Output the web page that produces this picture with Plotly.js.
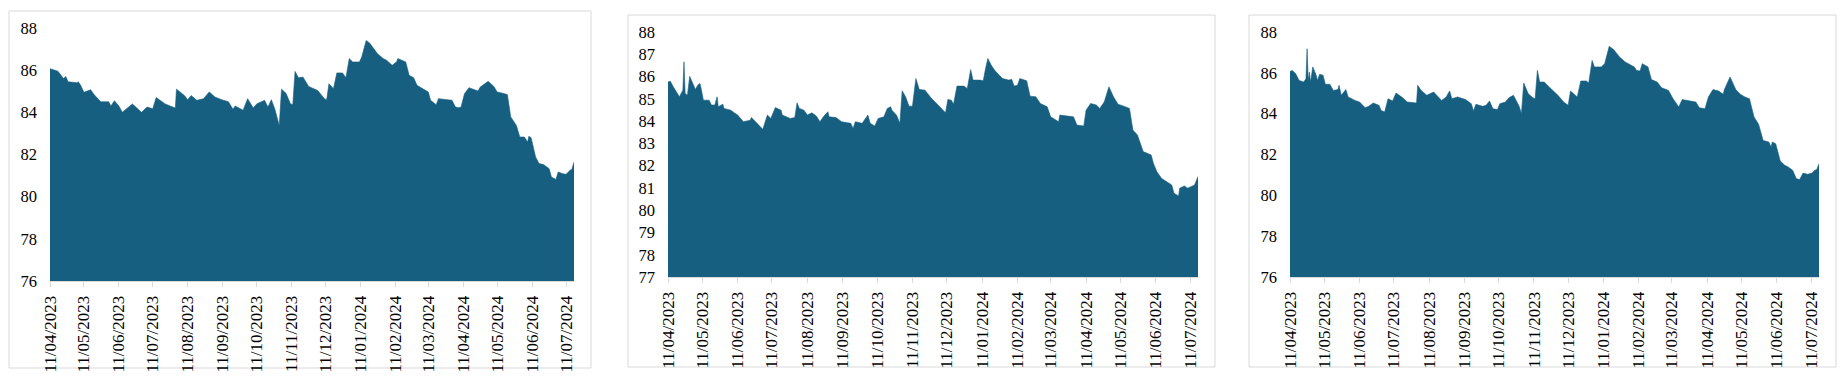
<!DOCTYPE html>
<html>
<head>
<meta charset="utf-8">
<script src="https://cdn.plot.ly/plotly-3.0.1.min.js"></script>
<style>html,body{margin:0;padding:0;background:#fff;}#chart{width:1843px;height:377px;}</style>
</head>
<body>
<div id="chart"></div>
<script>
const tickDates = ['2023-04-11','2023-05-11','2023-06-11','2023-07-11','2023-08-11','2023-09-11','2023-10-11','2023-11-11','2023-12-11','2024-01-11','2024-02-11','2024-03-11','2024-04-11','2024-05-11','2024-06-11','2024-07-11'];
const tickLabels = ['11/04/2023','11/05/2023','11/06/2023','11/07/2023','11/08/2023','11/09/2023','11/10/2023','11/11/2023','11/12/2023','11/01/2024','11/02/2024','11/03/2024','11/04/2024','11/05/2024','11/06/2024','11/07/2024'];

const dates1 = ['2023-04-11','2023-04-18','2023-04-23','2023-04-25','2023-04-27','2023-05-05','2023-05-06','2023-05-08','2023-05-11','2023-05-17','2023-05-20','2023-05-26','2023-06-02','2023-06-04','2023-06-07','2023-06-11','2023-06-14','2023-06-23','2023-07-01','2023-07-06','2023-07-11','2023-07-14','2023-07-22','2023-07-31','2023-08-01','2023-08-08','2023-08-11','2023-08-14','2023-08-19','2023-08-25','2023-08-30','2023-09-04','2023-09-10','2023-09-16','2023-09-20','2023-09-22','2023-09-29','2023-10-03','2023-10-08','2023-10-11','2023-10-18','2023-10-21','2023-10-24','2023-10-27','2023-10-31','2023-11-02','2023-11-06','2023-11-10','2023-11-12','2023-11-14','2023-11-17','2023-11-21','2023-11-26','2023-12-04','2023-12-10','2023-12-12','2023-12-14','2023-12-18','2023-12-21','2023-12-26','2023-12-29','2024-01-01','2024-01-04','2024-01-10','2024-01-12','2024-01-16','2024-01-19','2024-01-26','2024-01-31','2024-02-03','2024-02-08','2024-02-12','2024-02-13','2024-02-20','2024-02-23','2024-02-27','2024-03-01','2024-03-08','2024-03-11','2024-03-13','2024-03-18','2024-03-20','2024-03-26','2024-04-01','2024-04-04','2024-04-07','2024-04-09','2024-04-12','2024-04-16','2024-04-21','2024-04-24','2024-04-26','2024-05-03','2024-05-08','2024-05-11','2024-05-15','2024-05-20','2024-05-23','2024-05-28','2024-05-31','2024-06-04','2024-06-07','2024-06-08','2024-06-10','2024-06-14','2024-06-17','2024-06-21','2024-06-26','2024-06-28','2024-07-02','2024-07-04','2024-07-08','2024-07-11','2024-07-15','2024-07-16','2024-07-18'];
const values1 = [86.07,85.95,85.6,85.7,85.45,85.4,85.45,85.3,84.95,85.07,84.84,84.5,84.5,84.3,84.55,84.3,84.0,84.4,84.0,84.25,84.17,84.7,84.4,84.2,85.1,84.8,84.6,84.8,84.57,84.65,84.97,84.73,84.6,84.5,84.15,84.3,84.1,84.65,84.2,84.4,84.57,84.25,84.6,84.17,83.38,85.1,84.9,84.4,84.37,85.94,85.64,85.67,85.23,85.04,84.65,84.6,85.36,85.12,85.87,85.87,85.64,86.55,86.39,86.39,86.62,87.41,87.29,86.78,86.55,86.47,86.23,86.4,86.55,86.39,85.76,85.64,85.28,85.04,84.96,84.57,84.36,84.65,84.62,84.57,84.25,84.22,84.25,84.88,85.17,85.07,85.01,85.2,85.47,85.23,84.96,84.92,84.84,83.78,83.38,82.83,82.83,82.59,82.86,82.8,81.88,81.57,81.52,81.33,80.93,80.82,81.17,81.09,81.06,81.28,81.28,81.64];

const dates2 = ['2023-04-11','2023-04-13','2023-04-16','2023-04-20','2023-04-21','2023-04-24','2023-04-25','2023-04-26','2023-04-28','2023-04-30','2023-05-03','2023-05-05','2023-05-07','2023-05-09','2023-05-10','2023-05-12','2023-05-17','2023-05-19','2023-05-22','2023-05-24','2023-05-25','2023-05-29','2023-05-30','2023-06-05','2023-06-08','2023-06-11','2023-06-16','2023-06-22','2023-06-23','2023-06-28','2023-07-03','2023-07-07','2023-07-10','2023-07-14','2023-07-19','2023-07-20','2023-07-27','2023-07-31','2023-08-02','2023-08-04','2023-08-08','2023-08-11','2023-08-15','2023-08-19','2023-08-22','2023-08-25','2023-08-29','2023-08-30','2023-09-05','2023-09-10','2023-09-15','2023-09-18','2023-09-20','2023-09-22','2023-09-28','2023-10-03','2023-10-05','2023-10-09','2023-10-12','2023-10-17','2023-10-20','2023-10-23','2023-10-24','2023-10-28','2023-10-31','2023-11-02','2023-11-05','2023-11-08','2023-11-11','2023-11-14','2023-11-17','2023-11-22','2023-11-27','2023-12-04','2023-12-10','2023-12-12','2023-12-15','2023-12-17','2023-12-20','2023-12-26','2023-12-29','2024-01-01','2024-01-03','2024-01-09','2024-01-12','2024-01-14','2024-01-16','2024-01-19','2024-01-22','2024-01-26','2024-01-29','2024-02-03','2024-02-06','2024-02-08','2024-02-11','2024-02-13','2024-02-19','2024-02-22','2024-02-27','2024-03-02','2024-03-08','2024-03-11','2024-03-18','2024-03-19','2024-03-25','2024-03-31','2024-04-03','2024-04-09','2024-04-11','2024-04-15','2024-04-20','2024-04-23','2024-04-27','2024-05-01','2024-05-05','2024-05-09','2024-05-14','2024-05-19','2024-05-22','2024-05-26','2024-05-31','2024-06-03','2024-06-07','2024-06-09','2024-06-12','2024-06-16','2024-06-20','2024-06-25','2024-06-27','2024-07-01','2024-07-02','2024-07-06','2024-07-09','2024-07-12','2024-07-15','2024-07-18'];
const values2 = [85.76,85.79,85.51,85.16,85.09,85.39,86.66,85.24,85.16,86.01,85.61,85.42,85.61,85.69,85.46,84.94,84.94,84.72,84.72,85.09,84.64,84.76,84.57,84.49,84.37,84.27,83.97,84.04,84.16,83.9,83.63,84.27,84.12,84.61,84.49,84.27,84.12,84.16,84.82,84.57,84.49,84.27,84.37,84.22,83.97,84.19,84.42,84.19,84.16,83.97,83.93,83.9,83.67,83.97,83.9,84.27,83.9,83.78,84.12,84.19,84.57,84.64,84.49,84.27,83.9,85.36,85.09,84.67,84.67,85.91,85.42,85.39,85.06,84.67,84.37,84.97,84.94,84.76,85.57,85.57,85.46,86.31,85.84,85.84,85.81,86.36,86.81,86.51,86.28,86.06,85.91,85.84,85.87,85.57,85.61,85.91,85.81,85.12,85.09,84.79,84.64,84.19,83.97,84.27,84.22,84.19,83.82,83.78,84.49,84.79,84.72,84.57,84.87,85.54,85.09,84.76,84.67,84.57,83.6,83.37,82.63,82.55,82.48,82.1,81.73,81.43,81.28,81.13,80.76,80.64,80.99,81.09,80.99,81.06,81.13,81.51];

const dates3 = ['2023-04-11','2023-04-13','2023-04-16','2023-04-19','2023-04-23','2023-04-25','2023-04-26','2023-04-27','2023-04-28','2023-04-29','2023-05-01','2023-05-04','2023-05-05','2023-05-07','2023-05-10','2023-05-12','2023-05-16','2023-05-19','2023-05-23','2023-05-24','2023-05-26','2023-05-30','2023-06-01','2023-06-04','2023-06-07','2023-06-11','2023-06-16','2023-06-19','2023-06-23','2023-06-28','2023-06-30','2023-07-03','2023-07-06','2023-07-10','2023-07-13','2023-07-18','2023-07-23','2023-07-31','2023-08-01','2023-08-04','2023-08-09','2023-08-15','2023-08-19','2023-08-22','2023-08-26','2023-08-29','2023-08-31','2023-09-05','2023-09-12','2023-09-17','2023-09-19','2023-09-21','2023-09-27','2023-09-30','2023-10-03','2023-10-06','2023-10-10','2023-10-12','2023-10-17','2023-10-20','2023-10-24','2023-10-29','2023-10-31','2023-11-02','2023-11-06','2023-11-10','2023-11-12','2023-11-14','2023-11-16','2023-11-20','2023-11-25','2023-12-02','2023-12-07','2023-12-11','2023-12-13','2023-12-17','2023-12-19','2023-12-22','2023-12-27','2023-12-29','2024-01-01','2024-01-03','2024-01-09','2024-01-12','2024-01-16','2024-01-20','2024-01-25','2024-01-30','2024-02-04','2024-02-07','2024-02-09','2024-02-12','2024-02-14','2024-02-19','2024-02-22','2024-02-27','2024-03-02','2024-03-08','2024-03-12','2024-03-17','2024-03-20','2024-03-27','2024-04-01','2024-04-04','2024-04-09','2024-04-12','2024-04-16','2024-04-21','2024-04-25','2024-04-26','2024-05-01','2024-05-06','2024-05-10','2024-05-14','2024-05-18','2024-05-22','2024-05-26','2024-05-30','2024-06-04','2024-06-06','2024-06-07','2024-06-10','2024-06-14','2024-06-18','2024-06-21','2024-06-25','2024-06-28','2024-07-01','2024-07-04','2024-07-08','2024-07-12','2024-07-14','2024-07-16','2024-07-18'];
const values3 = [86.07,86.12,85.96,85.63,85.55,85.71,87.18,85.63,86.04,85.55,86.29,85.88,85.63,85.93,85.88,85.44,85.44,85.14,85.18,85.39,84.9,85.18,84.82,84.73,84.65,84.57,84.29,84.36,84.52,84.41,84.16,84.08,84.73,84.62,85.01,84.82,84.57,84.52,85.39,85.14,84.9,85.06,84.85,84.65,84.82,85.11,84.73,84.82,84.69,84.49,84.13,84.46,84.36,84.41,84.62,84.24,84.2,84.49,84.57,84.78,84.9,84.36,84.0,85.5,84.98,84.78,84.73,86.12,85.55,85.55,85.27,84.9,84.57,84.41,85.11,84.9,84.82,85.6,85.6,85.5,86.61,86.29,86.29,86.45,87.3,87.13,86.78,86.53,86.37,86.29,86.12,86.09,86.45,86.29,85.67,85.55,85.27,85.14,84.73,84.33,84.69,84.62,84.57,84.29,84.24,84.82,85.18,85.11,84.95,85.18,85.8,85.18,84.95,84.82,84.73,83.84,83.48,82.69,82.61,82.37,82.61,82.53,81.68,81.47,81.39,81.22,80.82,80.77,81.09,81.03,81.09,81.22,81.26,81.55];

const W = 1843, H = 377;
const FILL = '#175f80';
const GRAY = '#d9d9d9';
const SERIF = 'Liberation Serif, Times New Roman, serif';

function px(a){ return a / W; }
function py(b){ return 1 - b / H; }

const panels = [
  {dates: dates1, values: values1, x0: 50, x1: 574, yTop: 28, yBot: 281, yr: [76, 88], dtick: 2, box: [9, 11, 591, 368]},
  {dates: dates2, values: values2, x0: 668, x1: 1198, yTop: 32, yBot: 277, yr: [77, 88], dtick: 1, box: [628, 15, 1215, 367]},
  {dates: dates3, values: values3, x0: 1290, x1: 1819, yTop: 32, yBot: 277, yr: [76, 88], dtick: 2, box: [1249, 15, 1836, 367]}
];

const traces = [];
const layout = {
  width: W, height: H,
  margin: {l: 0, r: 0, t: 0, b: 0},
  paper_bgcolor: '#fff', plot_bgcolor: 'rgba(0,0,0,0)',
  showlegend: false,
  shapes: []
};

panels.forEach((p, i) => {
  const n = i === 0 ? '' : String(i + 1);
  traces.push({
    type: 'scatter', mode: 'lines',
    x: p.dates, y: p.values,
    xaxis: 'x' + n, yaxis: 'y' + n,
    fill: 'tozeroy', fillcolor: FILL,
    line: {color: FILL, width: 0.6},
    hoverinfo: 'skip'
  });
  layout['xaxis' + n] = {
    domain: [px(p.x0), px(p.x1)],
    anchor: 'y' + n,
    type: 'date',
    range: ['2023-04-11', '2024-07-18'],
    tickmode: 'array', tickvals: tickDates, ticktext: tickLabels,
    tickangle: -90,
    ticks: 'outside', ticklen: 5, tickcolor: GRAY, tickwidth: 1,
    showline: true, linecolor: GRAY, linewidth: 1,
    showgrid: false, zeroline: false,
    ticklabelstandoff: 2,
    tickfont: {family: SERIF, size: 17, color: '#000'}
  };
  layout['yaxis' + n] = {
    domain: [py(p.yBot), py(p.yTop)],
    anchor: 'x' + n,
    range: p.yr,
    tickmode: 'linear', tick0: p.yr[0], dtick: p.dtick,
    ticks: '', showline: false, showgrid: false, zeroline: false,
    ticklabelstandoff: 12,
    tickfont: {family: SERIF, size: 16.5, color: '#000'}
  };
  layout.shapes.push({
    type: 'rect', xref: 'paper', yref: 'paper',
    x0: px(p.box[0]), x1: px(p.box[2]), y0: py(p.box[3]), y1: py(p.box[1]),
    line: {color: GRAY, width: 1}, fillcolor: 'rgba(0,0,0,0)', layer: 'below'
  });
});

Plotly.newPlot('chart', traces, layout, {staticPlot: true, displayModeBar: false});
</script>
</body>
</html>
